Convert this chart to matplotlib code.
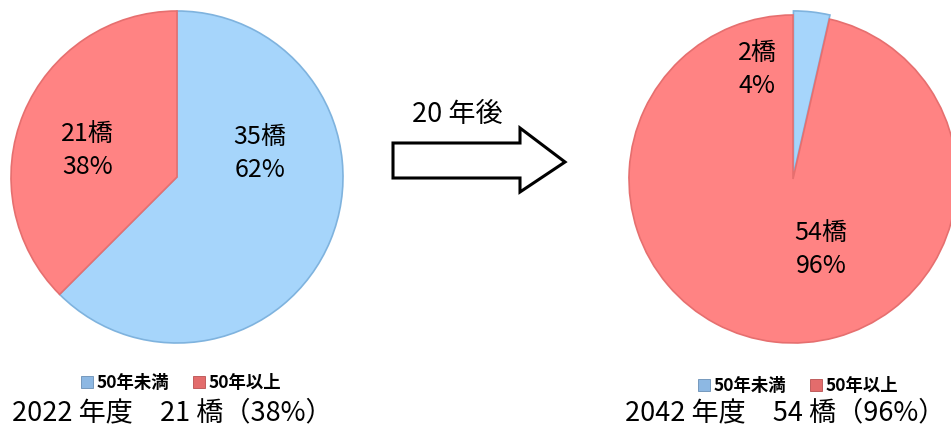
import matplotlib
matplotlib.use("Agg")
import matplotlib.pyplot as plt
from matplotlib.patches import Patch, Polygon

plt.rcParams['font.family'] = ['Noto Sans CJK JP', 'DejaVu Sans']

# ---- data ----
categories = ["50年未満", "50年以上"]
counts_2022 = [35, 21]
counts_2042 = [2, 54]
pct_2022 = [62, 38]
pct_2042 = [4, 96]
caption_2022 = "2022 年度　21 橋（38%）"
caption_2042 = "2042 年度　54 橋（96%）"
arrow_label = "20 年後"

pie_colors = ["#A6D5FB", "#FF8383"]
edge_colors = ["#7FB3DE", "#E66F6F"]
legend_colors = ["#8DB8E3", "#E36C6C"]

W, H = 951, 430
fig = plt.figure(figsize=(W / 100, H / 100), dpi=100)


def px_axes(cx, cy, r):
    return fig.add_axes([(cx - r) / W, (H - cy - r) / H, 2 * r / W, 2 * r / H])


def draw_pie(ax, counts, colors, explode):
    wedges, _ = ax.pie(counts, colors=colors, startangle=90, counterclock=False,
                       explode=explode,
                       wedgeprops=dict(linewidth=1.2))
    for w, ec in zip(wedges, edge_colors):
        w.set_edgecolor(ec)
    ax.set_xlim(-1, 1)
    ax.set_ylim(-1, 1)
    ax.set_aspect('equal')
    ax.axis('off')
    return wedges


# Left pie
axL = px_axes(177, 177, 166)
draw_pie(axL, counts_2022, pie_colors, [0, 0])
lbl_pos_L = [(0.50, 0.14), (-0.54, 0.16)]
for (x, y), c, p in zip(lbl_pos_L, counts_2022, pct_2022):
    axL.text(x, y, f"{c}橋\n{p}%", ha='center', va='center', fontsize=18,
             linespacing=1.35, color='black')

# Right pie
axR = px_axes(793, 179, 164)
draw_pie(axR, counts_2042, pie_colors, [0.025, 0])
lbl_pos_R = [(-0.22, 0.67), (0.17, -0.43)]
for (x, y), c, p in zip(lbl_pos_R, counts_2042, pct_2042):
    axR.text(x, y, f"{c}橋\n{p}%", ha='center', va='center', fontsize=18,
             linespacing=1.35, color='black')

# Legends
handles = [Patch(facecolor=c, edgecolor='#6A8FB5' if i == 0 else '#B85050', linewidth=0.6)
           for i, c in enumerate(legend_colors)]
for cx, cy in [(181, 383), (798, 386)]:
    fig.legend(handles, categories, loc='center', bbox_to_anchor=(cx / W, 1 - cy / H),
               ncol=2, frameon=False, prop=dict(size=12.5, weight='bold'),
               handlelength=0.7, handleheight=0.7,
               handletextpad=0.2, columnspacing=1.4, borderaxespad=0)

# Captions
fig.text(12 / W, 1 - 413 / H, caption_2022, ha='left', va='center', fontsize=19.5)
fig.text(945 / W, 1 - 413 / H, caption_2042, ha='right', va='center', fontsize=19.5)

# Arrow (block outline)
pts = [(393, 143), (520, 143), (520, 128), (565, 162), (520, 192), (520, 178), (393, 178)]
fig.patches.append(Polygon([(x / W, 1 - y / H) for x, y in pts], closed=True,
                           transform=fig.transFigure, facecolor='white',
                           edgecolor='black', linewidth=2.2, joinstyle='miter'))
fig.text(457 / W, 1 - 115 / H, arrow_label, ha='center', va='center', fontsize=19.5)

fig.savefig("out.png", dpi=100, facecolor='white')
